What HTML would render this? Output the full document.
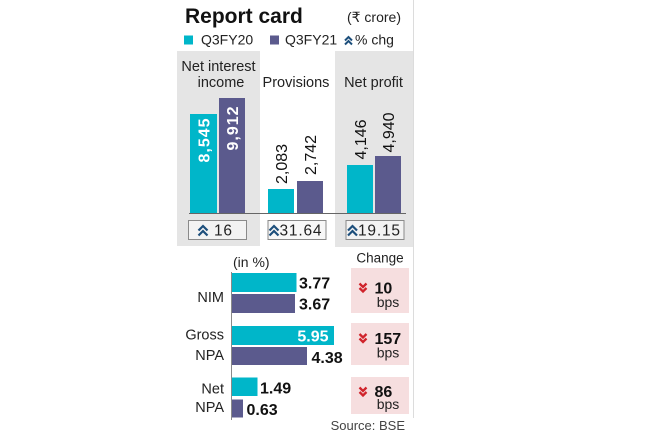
<!DOCTYPE html>
<html>
<head>
<meta charset="utf-8">
<style>
html,body{margin:0;padding:0;background:#fff;}
body{width:660px;height:440px;overflow:hidden;}
svg{display:block;font-family:"Liberation Sans","DejaVu Sans",sans-serif;}
</style>
</head>
<body>
<svg width="660" height="440" viewBox="0 0 660 440" xmlns="http://www.w3.org/2000/svg">
  <rect width="660" height="440" fill="#fff"/>
  <!-- right divider -->
  <line x1="413.5" y1="0" x2="413.5" y2="418" stroke="#dcdcdc" stroke-width="1"/>

  <!-- Title -->
  <text x="185" y="23" font-size="21" font-weight="bold" fill="#111">Report card</text>
  <text x="401" y="22" font-size="14" fill="#222" text-anchor="end">(₹ crore)</text>

  <!-- Legend -->
  <rect x="184" y="35.5" width="9" height="9" fill="#00b6c9"/>
  <text x="201" y="44.5" font-size="14" fill="#222">Q3FY20</text>
  <rect x="270" y="35.5" width="9" height="9" fill="#5b5a8d"/>
  <text x="285" y="44.5" font-size="14" fill="#222">Q3FY21</text>
  <path d="M345,40.5 L348.5,37 L352,40.5 M345,44.5 L348.5,41 L352,44.5" stroke="#1d4f7c" stroke-width="2" fill="none"/>
  <text x="355" y="44.5" font-size="14" fill="#222">% chg</text>

  <!-- Gray panels -->
  <rect x="177" y="51" width="83" height="195" fill="#e5e5e5"/>
  <rect x="335" y="51" width="78" height="196" fill="#e5e5e5"/>

  <!-- Panel headings -->
  <text x="218.5" y="71" font-size="14.5" fill="#222" text-anchor="middle">Net interest</text>
  <text x="221" y="87" font-size="14.5" fill="#222" text-anchor="middle">income</text>
  <text x="296" y="87" font-size="14.5" fill="#222" text-anchor="middle">Provisions</text>
  <text x="373.5" y="87" font-size="14.5" fill="#222" text-anchor="middle">Net profit</text>

  <!-- Top bars -->
  <rect x="190" y="114" width="27" height="99" fill="#00b6c9"/>
  <rect x="219" y="98" width="26" height="115" fill="#5b5a8d"/>
  <rect x="268" y="189" width="26" height="24" fill="#00b6c9"/>
  <rect x="297" y="181" width="26" height="32" fill="#5b5a8d"/>
  <rect x="347" y="165" width="26" height="48" fill="#00b6c9"/>
  <rect x="375" y="156" width="26" height="57" fill="#5b5a8d"/>
  <line x1="189" y1="213.5" x2="406" y2="213.5" stroke="#666" stroke-width="1"/>

  <!-- Rotated value labels -->
  <text transform="translate(203.5,140) rotate(-90)" dy="0.36em" text-anchor="middle" font-size="16" font-weight="bold" fill="#fff" letter-spacing="1">8,545</text>
  <text transform="translate(232,128) rotate(-90)" dy="0.36em" text-anchor="middle" font-size="16" font-weight="bold" fill="#fff" letter-spacing="1">9,912</text>
  <text transform="translate(281,164) rotate(-90)" dy="0.36em" text-anchor="middle" font-size="16" fill="#111">2,083</text>
  <text transform="translate(310,155) rotate(-90)" dy="0.36em" text-anchor="middle" font-size="16" fill="#111">2,742</text>
  <text transform="translate(360,139.5) rotate(-90)" dy="0.36em" text-anchor="middle" font-size="16" fill="#111">4,146</text>
  <text transform="translate(388,132.5) rotate(-90)" dy="0.36em" text-anchor="middle" font-size="16" fill="#111">4,940</text>

  <!-- % change boxes -->
  <rect x="188.5" y="220.5" width="58" height="19" fill="#f3f3f3" stroke="#8a8a8a" stroke-width="1"/>
  <rect x="268" y="220.5" width="58" height="19" fill="#f7f7f7" stroke="#8a8a8a" stroke-width="1"/>
  <rect x="346" y="220.5" width="58" height="19" fill="#f3f3f3" stroke="#8a8a8a" stroke-width="1"/>
  <path d="M198.5,230.5 L203,226 L207.5,230.5 M198.5,235.5 L203,231 L207.5,235.5" stroke="#1d4f7c" stroke-width="2.2" fill="none"/>
  <text x="214" y="235.5" font-size="15.5" fill="#222" letter-spacing="0.8">16</text>
  <path d="M269.5,230.5 L274,226 L278.5,230.5 M269.5,235.5 L274,231 L278.5,235.5" stroke="#1d4f7c" stroke-width="2.2" fill="none"/>
  <text x="279.5" y="235.5" font-size="15.5" fill="#222" letter-spacing="0.8">31.64</text>
  <path d="M348,230.5 L352.5,226 L357,230.5 M348,235.5 L352.5,231 L357,235.5" stroke="#1d4f7c" stroke-width="2.2" fill="none"/>
  <text x="358" y="235.5" font-size="15.5" fill="#222" letter-spacing="0.8">19.15</text>

  <!-- Lower section -->
  <text x="233" y="267" font-size="14" fill="#222">(in %)</text>
  <text x="380" y="262.5" font-size="13.5" fill="#222" text-anchor="middle">Change</text>
  <polygon points="364,268 399,268 381.5,274" fill="#111"/>

  <line x1="231.5" y1="272" x2="231.5" y2="420" stroke="#8a8a8a" stroke-width="1"/>

  <!-- NIM -->
  <rect x="232" y="273" width="64.5" height="19" fill="#00b6c9"/>
  <rect x="232" y="294" width="63" height="19" fill="#5b5a8d"/>
  <text x="299" y="288.5" font-size="16" font-weight="bold" fill="#111">3.77</text>
  <text x="299" y="309.5" font-size="16" font-weight="bold" fill="#111">3.67</text>
  <text x="224" y="302" font-size="14.5" fill="#222" text-anchor="end">NIM</text>

  <!-- Gross NPA -->
  <rect x="232" y="326" width="102" height="19" fill="#00b6c9"/>
  <rect x="232" y="347" width="75" height="18" fill="#5b5a8d"/>
  <text x="328.5" y="341.5" font-size="16" font-weight="bold" fill="#fff" text-anchor="end">5.95</text>
  <text x="311.5" y="363" font-size="16" font-weight="bold" fill="#111">4.38</text>
  <text x="224" y="339.5" font-size="14.5" fill="#222" text-anchor="end">Gross</text>
  <text x="224" y="360" font-size="14.5" fill="#222" text-anchor="end">NPA</text>

  <!-- Net NPA -->
  <rect x="232" y="377.5" width="25.5" height="18.5" fill="#00b6c9"/>
  <rect x="232" y="399.5" width="11" height="18" fill="#5b5a8d"/>
  <text x="260" y="393.5" font-size="16" font-weight="bold" fill="#111">1.49</text>
  <text x="246.5" y="415" font-size="16" font-weight="bold" fill="#111">0.63</text>
  <text x="224" y="393.5" font-size="14.5" fill="#222" text-anchor="end">Net</text>
  <text x="224" y="412" font-size="14.5" fill="#222" text-anchor="end">NPA</text>

  <!-- Change boxes -->
  <rect x="351" y="268" width="58" height="45" fill="#f6dedf"/>
  <path d="M359.5,283.5 L363,287 L366.5,283.5 M359.5,288 L363,291.5 L366.5,288" stroke="#d0232b" stroke-width="2.3" fill="none"/>
  <text x="374.5" y="293.5" font-size="16" font-weight="bold" fill="#111">10</text>
  <text x="388" y="307" font-size="14" fill="#222" text-anchor="middle">bps</text>

  <rect x="351" y="323" width="58" height="42" fill="#f6dedf"/>
  <path d="M359.5,334 L363,337.5 L366.5,334 M359.5,338.5 L363,342 L366.5,338.5" stroke="#d0232b" stroke-width="2.3" fill="none"/>
  <text x="374.5" y="344" font-size="16" font-weight="bold" fill="#111">157</text>
  <text x="388" y="357.5" font-size="14" fill="#222" text-anchor="middle">bps</text>

  <rect x="351" y="377" width="58" height="37" fill="#f6dedf"/>
  <path d="M359.5,387.5 L363,391 L366.5,387.5 M359.5,392 L363,395.5 L366.5,392" stroke="#d0232b" stroke-width="2.3" fill="none"/>
  <text x="374.5" y="397" font-size="16" font-weight="bold" fill="#111">86</text>
  <text x="388" y="409" font-size="14" fill="#222" text-anchor="middle">bps</text>

  <!-- Source -->
  <rect x="333" y="418" width="80" height="16" fill="#fff"/>
  <text x="405" y="430" font-size="13" fill="#444" text-anchor="end">Source: BSE</text>
</svg>
</body>
</html>
